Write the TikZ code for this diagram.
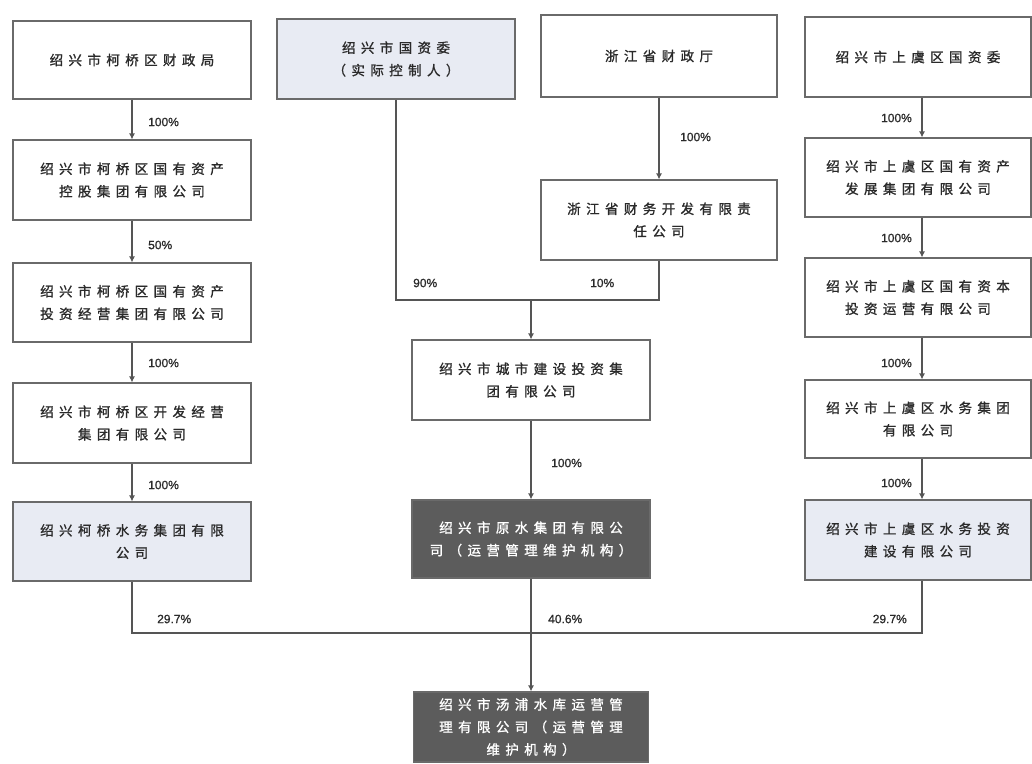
\documentclass[tikz,border=0pt]{standalone}
\usepackage{fontspec}
\newfontfamily\cjk[LetterSpace=40,FakeBold=1.2]{Noto Sans CJK SC}
\newfontfamily\lab[FakeBold=1]{Liberation Sans}
\usetikzlibrary{arrows.meta}
\definecolor{boxc}{HTML}{6A6A6A}
\definecolor{linec}{HTML}{555555}
\definecolor{txt}{HTML}{2A2A2A}
\definecolor{litefill}{HTML}{E8EBF3}
\definecolor{darkfill}{HTML}{5C5C5C}
\begin{document}
\begin{tikzpicture}[x=1pt,y=-1pt,
 box/.style={draw=boxc, line width=1.1pt, fill=white, minimum width=238pt, minimum height=80pt, inner sep=0pt, align=center, font=\cjk\fontsize{13.5}{22.5}\selectfont, text=txt},
 lite/.style={box, fill=litefill},
 dark/.style={box, fill=darkfill, text=white},
 pct/.style={font=\lab\fontsize{12}{13}\selectfont, text=txt, inner sep=0pt},
 ln/.style={draw=linec, line width=1.2pt},
 arr/.style={ln, -{Latex[length=6pt,width=6pt]}}]
\useasboundingbox (0,0) rectangle (1032,763);
\fill[white] (0,0) rectangle (1032,763);
% left column
\node[box, minimum height=78pt] (L1) at (132,60) {绍兴市柯桥区财政局};
\node[box] (L2) at (132,180) {绍兴市柯桥区国有资产\\控股集团有限公司};
\node[box, minimum height=79pt] (L3) at (132,302.5) {绍兴市柯桥区国有资产\\投资经营集团有限公司};
\node[box] (L4) at (132,423) {绍兴市柯桥区开发经营\\集团有限公司};
\node[lite, minimum height=79pt] (L5) at (132,541.5) {绍兴柯桥水务集团有限\\公司};
% middle column
\node[lite] (M1) at (396,59) {绍兴市国资委\\（实际控制人）};
\node[box, minimum width=236pt, minimum height=82pt] (M2) at (659,56) {浙江省财政厅};
\node[box, minimum width=236pt] (M3) at (659,220) {浙江省财务开发有限责\\任公司};
\node[box] (M4) at (531,380) {绍兴市城市建设投资集\\团有限公司};
\node[dark, minimum height=78pt] (M5) at (531,539) {绍兴市原水集团有限公\\司（运营管理维护机构）};
\node[dark, minimum width=235pt, minimum height=70pt] (B) at (531,727) {绍兴市汤浦水库运营管\\理有限公司（运营管理\\维护机构）};
% right column
\node[box, minimum width=226pt] (R1) at (918,57) {绍兴市上虞区国资委};
\node[box, minimum width=226pt, minimum height=79pt] (R2) at (918,177.5) {绍兴市上虞区国有资产\\发展集团有限公司};
\node[box, minimum width=226pt, minimum height=79pt] (R3) at (918,297.5) {绍兴市上虞区国有资本\\投资运营有限公司};
\node[box, minimum width=226pt, minimum height=78pt] (R4) at (918,419) {绍兴市上虞区水务集团\\有限公司};
\node[lite, minimum width=226pt] (R5) at (918,540) {绍兴市上虞区水务投资\\建设有限公司};
% junctions
\coordinate (j1) at (531,300);
\coordinate (j2) at (531,633);
% left connectors
\draw[arr] (L1) -- (L2);
\draw[arr] (L2) -- (L3);
\draw[arr] (L3) -- (L4);
\draw[arr] (L4) -- (L5);
% middle connectors
\draw[arr] (M2) -- (M3);
\draw[ln] (M1.south) |- (j1);
\draw[ln] (M3.south) |- (j1);
\draw[arr] (j1) -- (M4.north);
\draw[arr] (M4) -- (M5);
% right connectors
\draw[arr] ([xshift=4pt]R1.south) -- ([xshift=4pt]R2.north);
\draw[arr] ([xshift=4pt]R2.south) -- ([xshift=4pt]R3.north);
\draw[arr] ([xshift=4pt]R3.south) -- ([xshift=4pt]R4.north);
\draw[arr] ([xshift=4pt]R4.south) -- ([xshift=4pt]R5.north);
% bottom
\draw[ln] (L5.south) |- (j2);
\draw[ln] ([xshift=4pt]R5.south) |- (j2);
\draw[ln] (M5.south) -- (j2);
\draw[arr] (j2) -- (B.north);
% labels
\node[pct, anchor=west] (pL1) at (148,122) {100\%};
\node[pct, anchor=west] (pL2) at (148,245) {50\%};
\node[pct, anchor=west] (pL3) at (148,363) {100\%};
\node[pct, anchor=west] (pL4) at (148,485) {100\%};
\node[pct, anchor=west] (pL5) at (157,619) {29.7\%};
\node[pct, anchor=west] (pM1) at (680,137) {100\%};
\node[pct, anchor=west] (pM2) at (413,283) {90\%};
\node[pct, anchor=west] (pM3) at (590,283) {10\%};
\node[pct, anchor=west] (pM4) at (551,463) {100\%};
\node[pct, anchor=west] (pM5) at (548,619) {40.6\%};
\node[pct, anchor=east] (pR1) at (912,118) {100\%};
\node[pct, anchor=east] (pR2) at (912,238) {100\%};
\node[pct, anchor=east] (pR3) at (912,363) {100\%};
\node[pct, anchor=east] (pR4) at (912,483) {100\%};
\node[pct, anchor=east] (pR5) at (907,619) {29.7\%};
\end{tikzpicture}
\end{document}
